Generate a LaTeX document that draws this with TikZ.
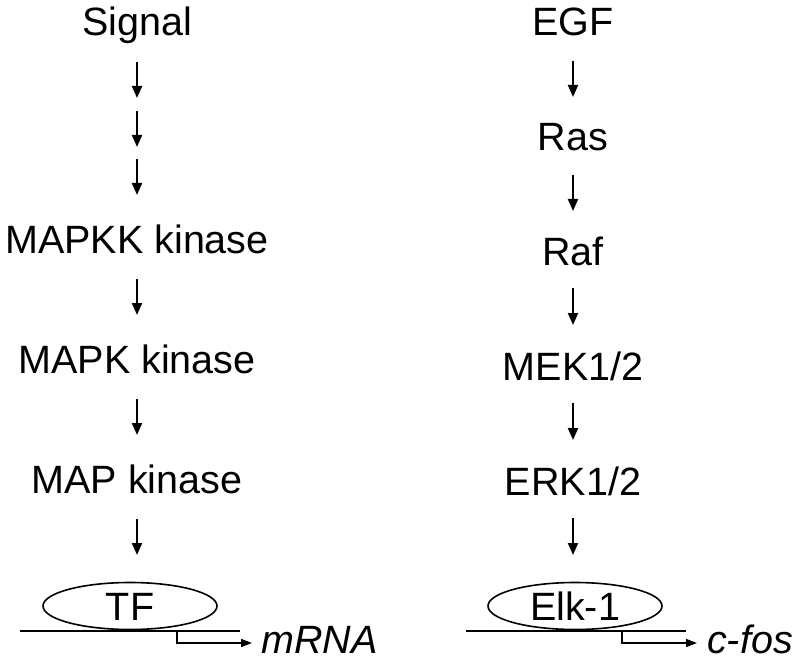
\documentclass[tikz,border=0pt]{standalone}
\usepackage{fontspec}
\setmainfont{Liberation Sans}
\usetikzlibrary{arrows.meta,shapes.geometric}
\begin{document}
\begin{tikzpicture}[x=1pt,y=-1pt,
  lbl/.style={anchor=base,inner sep=0pt,font=\fontsize{39.5}{45}\selectfont},
  arr/.style={line width=2pt,-{Triangle[length=12pt,width=10pt]}},
  tfbox/.style={ellipse,draw,line width=1.6pt,inner sep=0pt,minimum width=174pt,minimum height=47pt,
     text height=28pt,text depth=0pt,font=\fontsize{39.5}{45}\selectfont},
  dna/.style={line width=1.6pt},
  parr/.style={line width=1.6pt,-{Triangle[length=11pt,width=8pt]}},
  prod/.style={anchor=base west,inner sep=0pt,font=\fontsize{39.5}{45}\selectfont\itshape}]
\path[use as bounding box] (0,0) rectangle (800,663);
% left column
\node[lbl] (sig) at (137,36) {Signal};
\draw[arr] ([yshift=-26pt]sig.base) -- ++(0,36);
\draw[arr] ([yshift=-75pt]sig.base) -- ++(0,36);
\draw[arr] ([yshift=-123pt]sig.base) -- ++(0,36);
\node[lbl] (mkkk) at (137,253) {MAPKK kinase};
\draw[arr] ([yshift=-26pt]mkkk.base) -- ++(0,36);
\node[lbl] (mkk) at (137,373) {MAPK kinase};
\draw[arr] ([yshift=-26pt]mkk.base) -- ++(0,36);
\node[lbl] (mk) at (137,493) {MAP kinase};
\draw[arr] ([yshift=-26pt]mk.base) -- ++(0,36);
\node[tfbox] (tf) at (130,606) {TF};
\coordinate (dnaLa) at (20,631);
\coordinate (dnaLb) at (240,631);
\draw[dna] (dnaLa) -- (dnaLb);
\coordinate (promL) at (177,631);
\coordinate (endL) at (252,643);
\draw[parr] (promL) |- (endL);
\node[prod] (mrna) at (261,653) {mRNA};
% right column
\node[lbl] (egf) at (573,36) {EGF};
\draw[arr] ([yshift=-25pt]egf.base) -- ++(0,36);
\node[lbl] (ras) at (573,151) {Ras};
\draw[arr] ([yshift=-24pt]ras.base) -- ++(0,36);
\node[lbl] (raf) at (573,265) {Raf};
\draw[arr] ([yshift=-23pt]raf.base) -- ++(0,37);
\node[lbl] (mek) at (573,380) {MEK1/2};
\draw[arr] ([yshift=-23pt]mek.base) -- ++(0,37);
\node[lbl] (erk) at (573,495) {ERK1/2};
\draw[arr] ([yshift=-23pt]erk.base) -- ++(0,37);
\node[tfbox] (elk) at (575,606) {Elk-1};
\coordinate (dnaRa) at (466,631);
\coordinate (dnaRb) at (686,631);
\draw[dna] (dnaRa) -- (dnaRb);
\coordinate (promR) at (622,631);
\coordinate (endR) at (697,643);
\draw[parr] (promR) |- (endR);
\node[prod] (cfos) at (707,653) {c-fos};
\end{tikzpicture}
\end{document}
